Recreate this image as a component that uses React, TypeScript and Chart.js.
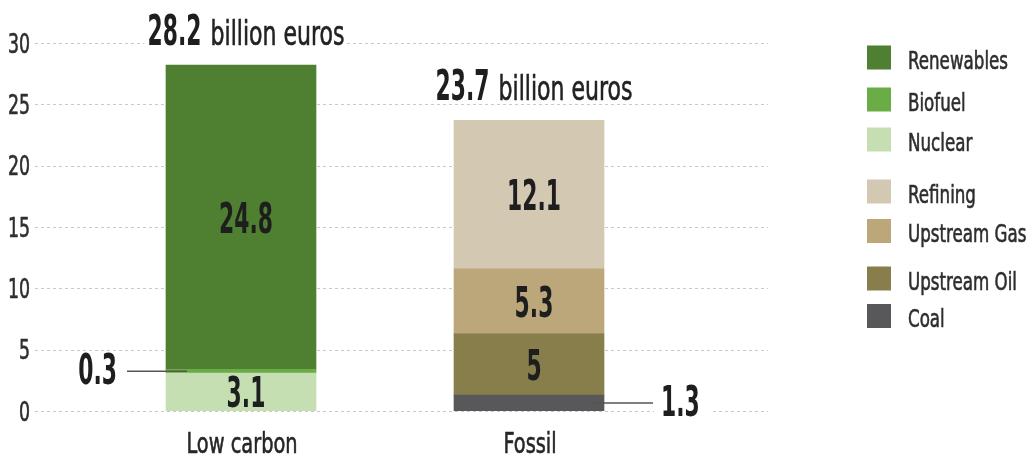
import React, { useEffect, useRef } from "react";
import { Chart, registerables } from "chart.js";

Chart.register(...registerables);

// ---- data ----
const categories = ["Low carbon", "Fossil"];
const seriesNames = ["Nuclear", "Biofuel", "Renewables", "Coal", "Upstream Oil", "Upstream Gas", "Refining"];
const nuclear = [3.1, null];
const biofuel = [0.3, null];
const renewables = [24.8, null];
const coal = [null, 1.3];
const upstreamOil = [null, 5];
const upstreamGas = [null, 5.3];
const refining = [null, 12.1];
const seriesValues = [nuclear, biofuel, renewables, coal, upstreamOil, upstreamGas, refining];
const seriesColors = ["#c5dfb3", "#6aad46", "#4f7f31", "#58585a", "#877e4c", "#bca77b", "#d3c8b1"];
const legendOrder = ["Renewables", "Biofuel", "Nuclear", "Refining", "Upstream Gas", "Upstream Oil", "Coal"];
const yTicks = [0, 5, 10, 15, 20, 25, 30];
const totalUnit = "billion euros";

// ---- styling helpers ----
const FAM = '"Liberation Sans Narrow", "DejaVu Sans Condensed", "Arial Narrow", sans-serif';
let SX_REG = 0.8;
let SX_BOLD = 0.7;

function fontStr(size: number, bold: boolean) {
  return `${bold ? "bold " : ""}${size}px ${FAM}`;
}
function rawWidth(ctx: CanvasRenderingContext2D, s: string, size: number, bold: boolean) {
  ctx.save();
  ctx.font = fontStr(size, bold);
  const w = ctx.measureText(s).width;
  ctx.restore();
  return w;
}
function calibrate(ctx: CanvasRenderingContext2D) {
  // condense the installed font to the narrow look of the original typeface
  SX_REG = 100 / rawWidth(ctx, "Renewables", 25, false);
  SX_BOLD = 54 / rawWidth(ctx, "24.8", 43, true);
}
function measure(ctx: CanvasRenderingContext2D, s: string, size: number, bold: boolean, sx: number) {
  return rawWidth(ctx, s, size, bold) * sx;
}
function txt(
  ctx: CanvasRenderingContext2D,
  s: string,
  x: number,
  y: number,
  size: number,
  bold: boolean,
  sx: number,
  align: "left" | "center" | "right",
  color: string
) {
  const w = measure(ctx, s, size, bold, sx);
  const left = align === "center" ? x - w / 2 : align === "right" ? x - w : x;
  ctx.save();
  ctx.font = fontStr(size, bold);
  ctx.fillStyle = color;
  ctx.textAlign = "left";
  ctx.textBaseline = "alphabetic";
  ctx.translate(left, y);
  ctx.scale(sx, 1);
  ctx.fillText(s, 0, 0);
  if (!bold) {
    ctx.strokeStyle = color;
    ctx.lineWidth = 0.6;
    ctx.strokeText(s, 0, 0);
  }
  ctx.restore();
  return w;
}

const GRID_LEFT = 35;
const GRID_RIGHT = 768;
const legendRowY = [57.5, 99.5, 139.5, 191.5, 231, 278.5, 316];

const decorPlugin = {
  id: "decor",
  beforeDatasetsDraw(chart: any) {
    const ctx: CanvasRenderingContext2D = chart.ctx;
    calibrate(ctx);
    const ys = chart.scales.y;
    const xs = chart.scales.x;
    ctx.save();
    ctx.strokeStyle = "#c8c8c8";
    ctx.lineWidth = 1;
    ctx.setLineDash([3, 3]);
    yTicks.forEach((t) => {
      const y = Math.round(ys.getPixelForValue(t)) + 0.5;
      ctx.beginPath();
      ctx.moveTo(GRID_LEFT, y);
      ctx.lineTo(GRID_RIGHT, y);
      ctx.stroke();
    });
    ctx.restore();
    yTicks.forEach((t) => {
      const y = ys.getPixelForValue(t);
      txt(ctx, String(t), 30, y + 9.5, 26, false, SX_REG, "right", "#2e2e2e");
    });
    categories.forEach((c, i) => {
      txt(ctx, c, xs.getPixelForValue(i) + 1, 453, 29, false, SX_REG, "center", "#262626");
    });
  },
  afterDatasetsDraw(chart: any) {
    const ctx: CanvasRenderingContext2D = chart.ctx;
    const ys = chart.scales.y;
    const dark = "#1e1e1e";
    // segment labels
    seriesValues.forEach((vals, di) => {
      const meta = chart.getDatasetMeta(di);
      vals.forEach((v, ci) => {
        if (v == null) return;
        const el: any = meta.data[ci];
        const cy = (el.y + el.base) / 2;
        const half = el.width / 2;
        const label = String(v);
        if (v >= 2) {
          txt(ctx, label, el.x + 5, cy + 15.5, 43, true, SX_BOLD, "center", dark);
        } else {
          ctx.save();
          ctx.strokeStyle = "#555555";
          ctx.lineWidth = 1.5;
          ctx.beginPath();
          if (ci === 0) {
            const x0 = el.x - half - 39;
            const x1 = el.x - half + 21;
            ctx.moveTo(x0, cy);
            ctx.lineTo(x1, cy);
            ctx.stroke();
            ctx.restore();
            txt(ctx, label, x0 - 10, cy + 13, 43, true, SX_BOLD, "right", dark);
          } else {
            const x0 = el.x + half - 10;
            const x1 = el.x + half + 49;
            const w = measure(ctx, label, 43, true, SX_BOLD);
            ctx.moveTo(x0, cy);
            ctx.lineTo(x1, cy);
            ctx.stroke();
            ctx.fillStyle = "#ffffff";
            ctx.fillRect(x1 + 1, cy - 20, w + 18, 40);
            ctx.restore();
            txt(ctx, label, x1 + 8, cy + 13, 43, true, SX_BOLD, "left", dark);
          }
        }
      });
    });
    // totals above bars
    categories.forEach((_, ci) => {
      let total = 0;
      seriesValues.forEach((vals) => {
        total += vals[ci] || 0;
      });
      const xc = chart.scales.x.getPixelForValue(ci) + 5;
      const baseline = ys.getPixelForValue(total) - 20;
      const num = total.toFixed(1);
      const wNum = measure(ctx, num, 43, true, SX_BOLD);
      const wUnit = measure(ctx, totalUnit, 33, false, SX_REG);
      const gap = 9;
      const total_w = wNum + gap + wUnit;
      const left = xc - total_w / 2;
      ctx.save();
      ctx.fillStyle = "#ffffff";
      ctx.fillRect(left - 3, baseline - 32, total_w + 5, 34);
      ctx.restore();
      txt(ctx, num, left, baseline, 43, true, SX_BOLD, "left", dark);
      txt(ctx, totalUnit, left + wNum + gap, baseline, 33, false, SX_REG, "left", "#222222");
    });
    // legend
    legendOrder.forEach((name, i) => {
      const idx = seriesNames.indexOf(name);
      const cy = legendRowY[i];
      ctx.save();
      ctx.fillStyle = seriesColors[idx];
      ctx.fillRect(867, cy - 12, 24, 24);
      ctx.restore();
      txt(ctx, name, 908, cy + 11, 25, false, SX_REG, "left", "#2e2e2e");
    });
  },
};

export default function App() {
  const ref = useRef<HTMLCanvasElement | null>(null);
  useEffect(() => {
    if (!ref.current) return;
    const chart = new Chart(ref.current, {
      type: "bar",
      data: {
        labels: categories,
        datasets: seriesNames.map((name, i) => ({
          label: name,
          data: seriesValues[i],
          backgroundColor: seriesColors[i],
          borderWidth: 0,
          barThickness: 150,
        })),
      },
      options: {
        animation: false,
        responsive: false,
        devicePixelRatio: 1,
        layout: { padding: { left: 97, right: 355, top: 43, bottom: 47 } },
        plugins: { legend: { display: false }, tooltip: { enabled: false } },
        scales: {
          x: { stacked: true, display: false },
          y: { stacked: true, display: false, min: 0, max: 30 },
        },
      },
      plugins: [decorPlugin],
    } as any);
    return () => chart.destroy();
  }, []);
  return (
    <div style={{ position: "fixed", left: 0, top: 0, width: 1028, height: 458, background: "#fff" }}>
      <canvas ref={ref} width={1028} height={458} style={{ display: "block" }} />
    </div>
  );
}
